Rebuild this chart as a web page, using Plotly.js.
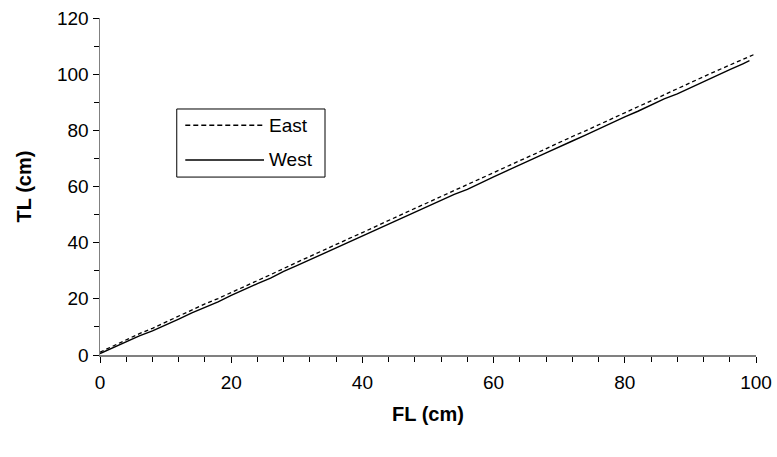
<!DOCTYPE html>
<html>
<head>
<meta charset="utf-8">
<script src="https://cdn.plot.ly/plotly-3.0.1.min.js"></script>
<style>body{margin:0;padding:0;background:#fff}#chart{width:777px;height:457px}</style>
</head>
<body>
<div id="chart"></div>
<script>
var flEast = [0,2,4,6,8,10,12,14,16,18,20,22,24,26,28,30,32,34,36,38,40,42,44,46,48,50,52,54,56,58,60,62,64,66,68,70,72,74,76,78,80,82,84,86,88,90,92,94,96,98,100];
var tlEast = [1.0,3.2,5.4,7.6,9.5,11.7,13.8,16.0,18.2,20.1,22.3,24.5,26.5,28.6,30.9,33.0,35.1,37.3,39.3,41.5,43.6,45.8,47.9,50.0,52.2,54.3,56.5,58.5,60.7,62.8,65.0,67.1,69.2,71.3,73.5,75.6,77.8,79.8,82.0,84.1,86.3,88.4,90.5,92.7,94.8,96.9,99.1,101.2,103.3,105.4,107.3];
var flWest = [0,2,4,6,8,10,12,14,16,18,20,22,24,26,28,30,32,34,36,38,40,42,44,46,48,50,52,54,56,58,60,62,64,66,68,70,72,74,76,78,80,82,84,86,88,90,92,94,96,98,99];
var tlWest = [0.5,2.6,4.6,6.8,8.6,10.6,12.8,15.0,17.0,18.9,21.2,23.4,25.4,27.4,29.8,31.8,33.9,36.0,38.2,40.2,42.4,44.4,46.6,48.8,50.7,52.8,55.0,57.2,59.0,61.3,63.4,65.6,67.6,69.8,72.0,74.0,76.2,78.3,80.5,82.6,84.8,86.8,89.0,91.2,93.0,95.2,97.4,99.6,101.6,103.7,104.8];
var seriesNames = ["East", "West"];
var xTickVals = [0,20,40,60,80,100];
var yTickVals = [0,20,40,60,80,100,120];

var traces = [
  {x: flEast, y: tlEast, name: seriesNames[0], mode: "lines", type: "scatter",
   line: {color: "#000", width: 1.3, dash: "4px,3px"}, showlegend: false, hoverinfo: "skip"},
  {x: flWest, y: tlWest, name: seriesNames[1], mode: "lines", type: "scatter",
   line: {color: "#000", width: 1.4}, showlegend: false, hoverinfo: "skip"}
];

var fnt = "Liberation Sans, Arial, sans-serif";
var layout = {
  width: 777, height: 457,
  margin: {l: 100, r: 21, t: 18, b: 102},
  paper_bgcolor: "#fff", plot_bgcolor: "#fff",
  font: {family: fnt, color: "#000", size: 19},
  xaxis: {
    range: [0, 100], tickvals: xTickVals, ticks: "outside", ticklen: 6, tickcolor: "#000",
    showline: true, linecolor: "#808080", linewidth: 1.5, showgrid: false, zeroline: false,
    minor: {dtick: 4, ticks: "outside", ticklen: 5, tickcolor: "#000"},
    tickfont: {size: 19, family: fnt}, ticklabelstandoff: 4,
    title: {text: "<b>FL (cm)</b>", font: {size: 20, family: fnt}, standoff: 14}
  },
  yaxis: {
    range: [0, 120], tickvals: yTickVals, ticks: "outside", ticklen: 6, tickcolor: "#000",
    showline: true, linecolor: "#808080", linewidth: 1.5, showgrid: false, zeroline: false,
    minor: {dtick: 10, ticks: "outside", ticklen: 5, tickcolor: "#000"},
    tickfont: {size: 19, family: fnt},
    title: {text: "<b>TL (cm)</b>", font: {size: 20, family: fnt}, standoff: 20}
  },
  shapes: [
    {type: "rect", xref: "paper", yref: "paper", x0: 0.117, x1: 0.343, y0: 0.528, y1: 0.730,
     line: {color: "#000", width: 1}, fillcolor: "#fff"},
    {type: "line", xref: "paper", yref: "paper", x0: 0.130, x1: 0.250, y0: 0.682, y1: 0.682,
     line: {color: "#000", width: 1.5, dash: "5px,3px"}},
    {type: "line", xref: "paper", yref: "paper", x0: 0.130, x1: 0.250, y0: 0.579, y1: 0.579,
     line: {color: "#000", width: 1.5}}
  ],
  annotations: [
    {xref: "paper", yref: "paper", x: 0.255, y: 0.682, text: seriesNames[0], showarrow: false,
     xanchor: "left", yanchor: "middle", font: {size: 19, family: fnt}},
    {xref: "paper", yref: "paper", x: 0.255, y: 0.579, text: seriesNames[1], showarrow: false,
     xanchor: "left", yanchor: "middle", font: {size: 19, family: fnt}}
  ]
};
Plotly.newPlot("chart", traces, layout, {staticPlot: true, displayModeBar: false});
</script>
</body>
</html>
